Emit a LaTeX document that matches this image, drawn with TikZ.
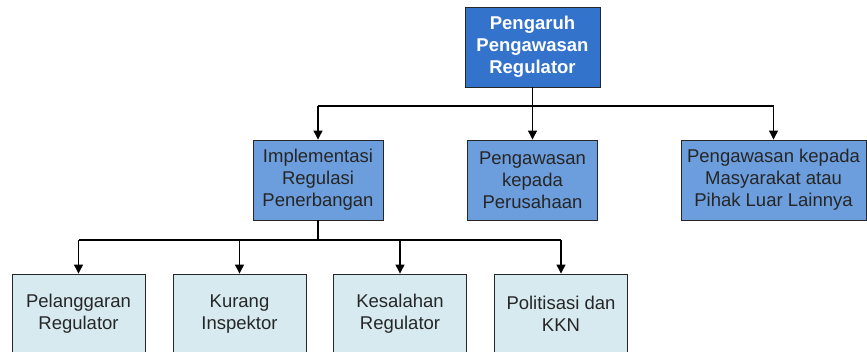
\documentclass[tikz,border=0pt]{standalone}
\usepackage{fontspec}
\setmainfont{Liberation Sans}
\usetikzlibrary{arrows.meta}

\definecolor{topblue}{RGB}{51,115,204}
\definecolor{midblue}{RGB}{108,157,220}
\definecolor{lowblue}{RGB}{214,234,240}

\tikzset{
	box/.style={draw=black!85, line width=0.9pt, minimum height=80pt, inner sep=0pt,
		align=center, font=\fontsize{18.5}{22}\selectfont},
	topbox/.style={box, fill=topblue, text=white, minimum width=135pt,
		font=\fontsize{18.5}{22}\selectfont\bfseries},
	midbox/.style={box, fill=midblue, text=black!85, minimum width=130pt},
	lowbox/.style={box, fill=lowblue, text=black!85, minimum width=133pt},
	link/.style={line width=1.2pt, -{Triangle[width=9pt,length=9pt]}},
	bus/.style={line width=1.2pt},
}

\begin{document}
\begin{tikzpicture}[x=1pt,y=-1pt]
		\useasboundingbox (0,0) rectangle (867,351);
		% top
		\node[topbox] (top) at (532.5,47) {Pengaruh\\Pengawasan\\Regulator};
		% second row
		\node[midbox] (impl) at (318,180) {Implementasi\\Regulasi\\Penerbangan};
		\node[midbox] (peru) at (532.5,180) {Pengawasan\\kepada\\Perusahaan};
		\node[midbox, minimum width=185pt] (masy) at (773.5,180) {Pengawasan kepada\\Masyarakat atau\\Pihak Luar Lainnya};
		% third row
		\node[lowbox] (pel) at (78.5,314) {Pelanggaran\\Regulator};
		\node[lowbox] (kur) at (239.5,314) {Kurang\\Inspektor};
		\node[lowbox] (kes) at (400,314) {Kesalahan\\Regulator};
		\node[lowbox] (pol) at (561,314) {Politisasi dan\\KKN};

		\coordinate (busA) at (0,106);
		\coordinate (busB) at (0,240);

		\draw[bus] (top.south) -- (top.south |- busA);
		\draw[bus] (impl.north |- busA) -- (masy.north |- busA);
		\foreach \n in {impl,peru,masy}
			\draw[link] (\n.north |- busA) -- (\n.north);

		\draw[bus] (impl.south) -- (impl.south |- busB);
		\draw[bus] (pel.north |- busB) -- (pol.north |- busB);
		\foreach \n in {pel,kur,kes,pol}
			\draw[link] (\n.north |- busB) -- (\n.north);
	\end{tikzpicture}
\end{document}
